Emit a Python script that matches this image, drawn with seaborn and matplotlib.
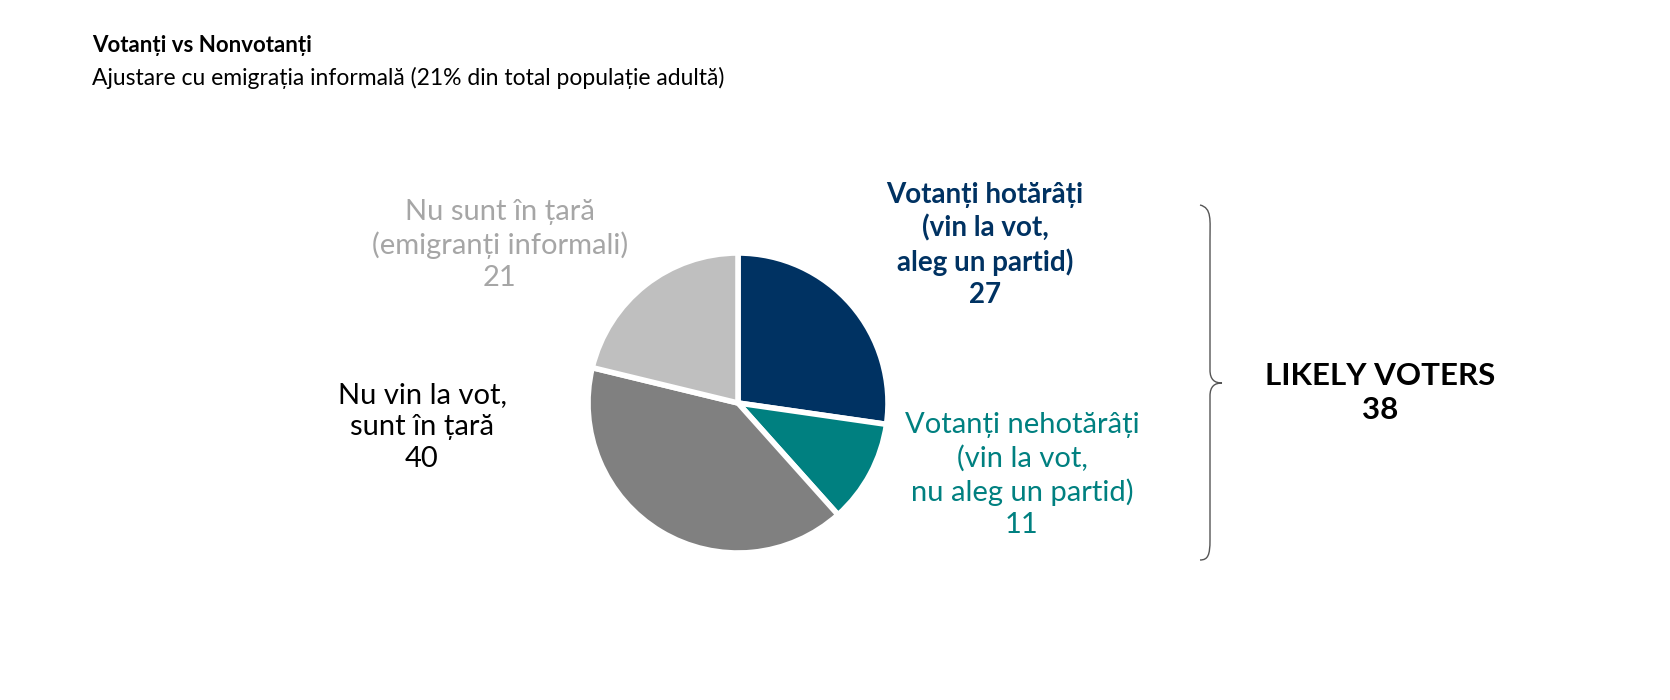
import matplotlib
matplotlib.use("Agg")
import matplotlib.pyplot as plt
from matplotlib.path import Path
from matplotlib.patches import PathPatch
import seaborn as sns

# --- Daten ---
segmente = ["Votanți hotărâți", "Votanți nehotărâți", "Nu vin la vot", "Nu sunt în țară"]
werte = [27, 11, 40, 21]
farben = ["#003262", "#008080", "#808080", "#BFBFBF"]
likely_voters = 38

sns.set_theme(style="white")
plt.rcParams['font.family'] = ['Lato', 'DejaVu Sans']

W, H = 1670, 700
fig = plt.figure(figsize=(W / 100, H / 100), dpi=100)

def fx(x):
    return x / W

def fy(y):
    return 1 - y / H

# Torte
cx, cy, r = 738, 403, 150
ax = fig.add_axes([fx(cx - r), fy(cy + r), 2 * r / W, 2 * r / H])
ax.pie(werte, colors=farben, startangle=90, counterclock=False,
       wedgeprops=dict(edgecolor="white", linewidth=4))
ax.set_xlim(-1.0, 1.0)
ax.set_ylim(-1.0, 1.0)
ax.set_aspect("equal")
ax.axis("off")

# Titel
fig.text(fx(92), fy(45), "Votanți vs Nonvotanți", fontsize=16, fontweight="bold",
         color="black", va="center")
fig.text(fx(92), fy(78), "Ajustare cu emigrația informală (21% din total populație adultă)",
         fontsize=16.5, color="black", va="center")

# Beschriftungen
fig.text(fx(985), fy(245), f"Votanți hotărâți\n(vin la vot,\naleg un partid)\n{werte[0]}",
         fontsize=20, fontweight="bold", color=farben[0], ha="center", va="center",
         linespacing=1.3)
fig.text(fx(1022), fy(475), f"Votanți nehotărâți\n(vin la vot,\nnu aleg un partid)\n{werte[1]}",
         fontsize=21, color=farben[1], ha="center", va="center", linespacing=1.3)
fig.text(fx(422), fy(427), f"Nu vin la vot,\nsunt în țară\n{werte[2]}",
         fontsize=21, color="black", ha="center", va="center", linespacing=1.3)
fig.text(fx(500), fy(245), f"Nu sunt în țară\n(emigranți informali)\n{werte[3]}",
         fontsize=21, color="#A6A6A6", ha="center", va="center", linespacing=1.3)

fig.text(fx(1380), fy(393), f"LIKELY VOTERS\n{likely_voters}", fontsize=22.5,
         fontweight="bold", color="black", ha="center", va="center", linespacing=1.3)

# Geschweifte Klammer
pts = [(1200, 205), (1212, 208), (1210, 220), (1210, 240),
       (1210, 300), (1210, 360), (1210, 370),
       (1210, 380), (1215, 383), (1222, 383),
       (1215, 383), (1210, 386), (1210, 396),
       (1210, 410), (1210, 480), (1210, 540),
       (1210, 555), (1208, 560), (1200, 560)]
codes = [Path.MOVETO] + [Path.CURVE4] * 18
verts = [(fx(x), fy(y)) for x, y in pts]
fig.patches.append(PathPatch(Path(verts, codes), transform=fig.transFigure,
                             fill=False, edgecolor="#555555", linewidth=1))

fig.savefig("out.png", dpi=100, facecolor="white")
